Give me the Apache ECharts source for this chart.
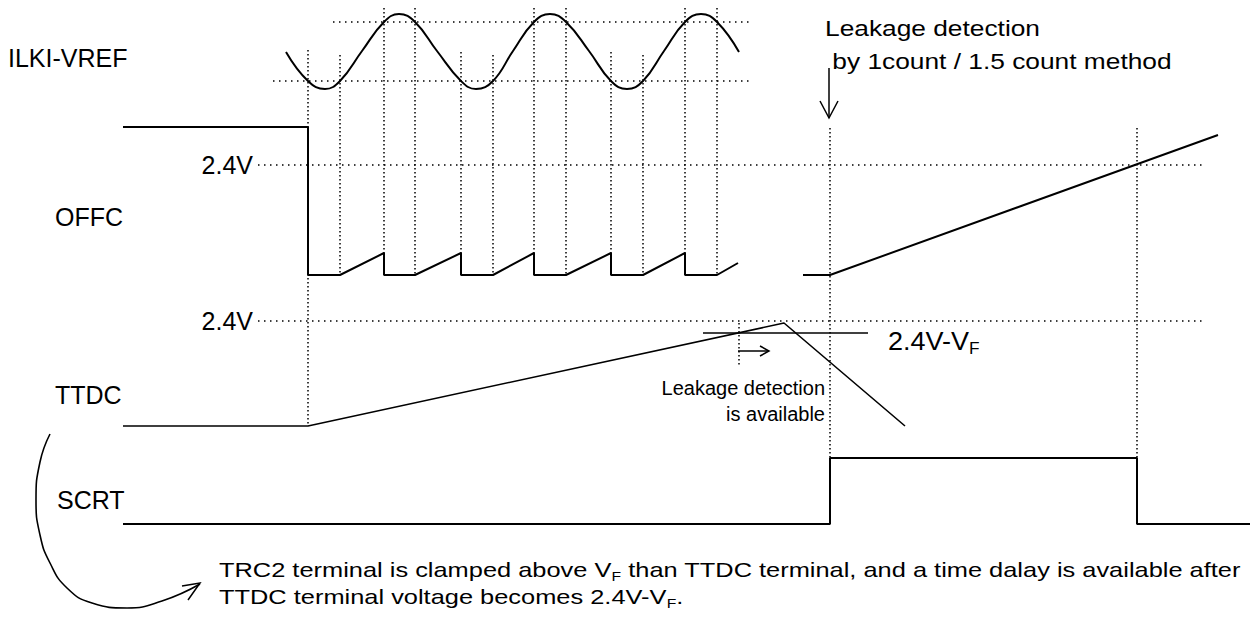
<!DOCTYPE html>
<html>
<head>
<meta charset="utf-8">
<title>OFFC / TTDC timing</title>
<script src="https://cdn.jsdelivr.net/npm/echarts@6/dist/echarts.min.js"></script>
<style>
  html, body { margin: 0; padding: 0; background: #fff; }
  #chart { width: 1252px; height: 618px; }
</style>
</head>
<body>
<div id="chart"></div>
<script>
// waveforms, in drawing units: t runs left to right, level runs top to bottom
const ilkiVref = [[286, 52], [308, 81], [325, 89], [340, 81], [362, 51], [384, 22], [399, 14], [415, 22],
  [437, 51], [461, 81], [476, 89], [493, 81], [513, 51], [534, 22], [550, 14], [566, 22], [589, 51],
  [611, 81], [627, 89], [643, 81], [664, 51], [685, 22], [701, 14], [717, 22], [739, 52]]
const offcSaw = [[123, 127], [308, 127], [308, 275], [340, 275], [384, 253], [384, 275], [415, 275],
  [461, 253], [461, 275], [493, 275], [534, 253], [534, 275], [566, 275], [611, 253], [611, 275],
  [643, 275], [685, 253], [685, 275], [717, 275], [738, 263]]
const offcRamp = [[803, 275], [830, 275], [1218, 135]]
const ttdc = [[123, 426], [308, 426], [784, 323], [905, 426]]
const scrt = [[123, 524], [830, 524], [830, 458], [1137, 458], [1137, 524], [1250, 524]]

// dotted guides: [t, levelFrom, levelTo] and [level, tFrom, tTo]
const markTimes = [[308, 50, 426], [340, 55, 275], [384, 8, 275], [415, 8, 275], [461, 52, 275],
  [493, 55, 275], [534, 8, 275], [566, 8, 275], [611, 52, 275], [643, 55, 275], [685, 8, 275],
  [717, 8, 275], [739, 323, 367], [830, 128, 458], [1137, 128, 458]]
const refLevels = [[22, 333, 752], [81, 273, 752], [165, 258, 1205], [321, 258, 1205]]

// annotation strokes
const vfLevel = [[703, 333], [868, 333]]
const availArrow = [[[738, 351], [769, 351]], [[760, 346], [769, 351], [760, 356]]]
const detectArrow = [[[829, 68], [829, 118]], [[820, 101], [829, 118], [838, 101]]]
const clampCurve = [[50, 434], [40, 462], [36, 500], [40, 535], [50, 563], [67, 588], [92, 603],
  [127, 608], [162, 601], [200, 584]]
const clampHead = [[182, 586], [200, 583], [188, 600]]

const FONT = '"Liberation Sans", Arial, sans-serif'

function trace (data, width, smooth) {
  return {
    type: 'line',
    data: data,
    symbol: 'none',
    smooth: smooth || false,
    silent: true,
    lineStyle: { color: '#000', width: width }
  }
}

function strokes (list, width, dash) {
  return {
    type: 'lines',
    coordinateSystem: 'cartesian2d',
    polyline: true,
    silent: true,
    data: list.map(c => ({ coords: c })),
    lineStyle: { color: '#000', width: width, type: dash || 'solid', opacity: 1, curveness: 0 }
  }
}

function label (text, x, y, extra) {
  return Object.assign({
    type: 'text',
    x: x,
    y: y,
    silent: true,
    z: 100,
    style: Object.assign({
      text: text,
      fontSize: 25,
      fontFamily: FONT,
      fill: '#000',
      align: 'left',
      verticalAlign: 'middle'
    }, extra && extra.style)
  }, extra && extra.el)
}

const sub = (size, lh) => ({
  a: { fontSize: size, fontFamily: FONT, fill: '#000', lineHeight: lh },
  b: { fontSize: Math.round(size * 0.62), fontFamily: FONT, fill: '#000', lineHeight: 12, verticalAlign: 'bottom' }
})

const dom = document.getElementById('chart')
const chart = echarts.init(dom, null, { renderer: 'svg' })

const option = {
  animation: false,
  backgroundColor: '#fff',
  grid: { left: 0, right: 0, top: 0, bottom: 0 },
  xAxis: { type: 'value', min: 0, max: 1252, show: false },
  yAxis: { type: 'value', min: 0, max: 618, inverse: true, show: false },
  series: [
    strokes(refLevels.map(([v, a, b]) => [[a, v], [b, v]]), 1.5, [1.5, 4.5]),
    strokes(markTimes.map(([t, a, b]) => [[t, a], [t, b]]), 1.5, [1.5, 2.5]),
    trace(ilkiVref, 2, 0.45),
    trace(offcSaw, 2),
    trace(offcRamp, 2),
    trace(ttdc, 1.6),
    trace(scrt, 2),
    trace(vfLevel, 1.6),
    strokes(availArrow, 1.5),
    strokes(detectArrow, 1.5),
    trace(clampCurve, 1.6, 0.5),
    strokes([clampHead], 1.5)
  ],
  graphic: [
    label('ILKI-VREF', 8, 58),
    label('OFFC', 55, 217),
    label('TTDC', 55, 395),
    label('SCRT', 57, 500),
    label('2.4V', 253, 165, { style: { align: 'right' } }),
    label('2.4V', 253, 321, { style: { align: 'right' } }),
    label('{a|2.4V-V}{b|F}', 888, 341, { style: { rich: sub(25, 32) }, el: { scaleX: 1.08 } }),
    label('Leakage detection\n by 1count / 1.5 count method', 825, 12, {
      style: { fontSize: 22.5, lineHeight: 33, verticalAlign: 'top' }, el: { scaleX: 1.17 }
    }),
    label('Leakage detection\nis available', 825, 375, {
      style: { fontSize: 20, lineHeight: 26, verticalAlign: 'top', align: 'right' }
    }),
    label('{a|TRC2 terminal is clamped above V}{b|F}{a| than TTDC terminal, and a time dalay is available after}\n' +
      '{a|TTDC terminal voltage becomes 2.4V-V}{b|F}{a|.}', 219, 556, {
      style: { rich: sub(21, 27), verticalAlign: 'top' }, el: { scaleX: 1.21 }
    })
  ]
}

chart.setOption(option)
window.addEventListener('resize', () => chart.resize())
</script>
</body>
</html>
